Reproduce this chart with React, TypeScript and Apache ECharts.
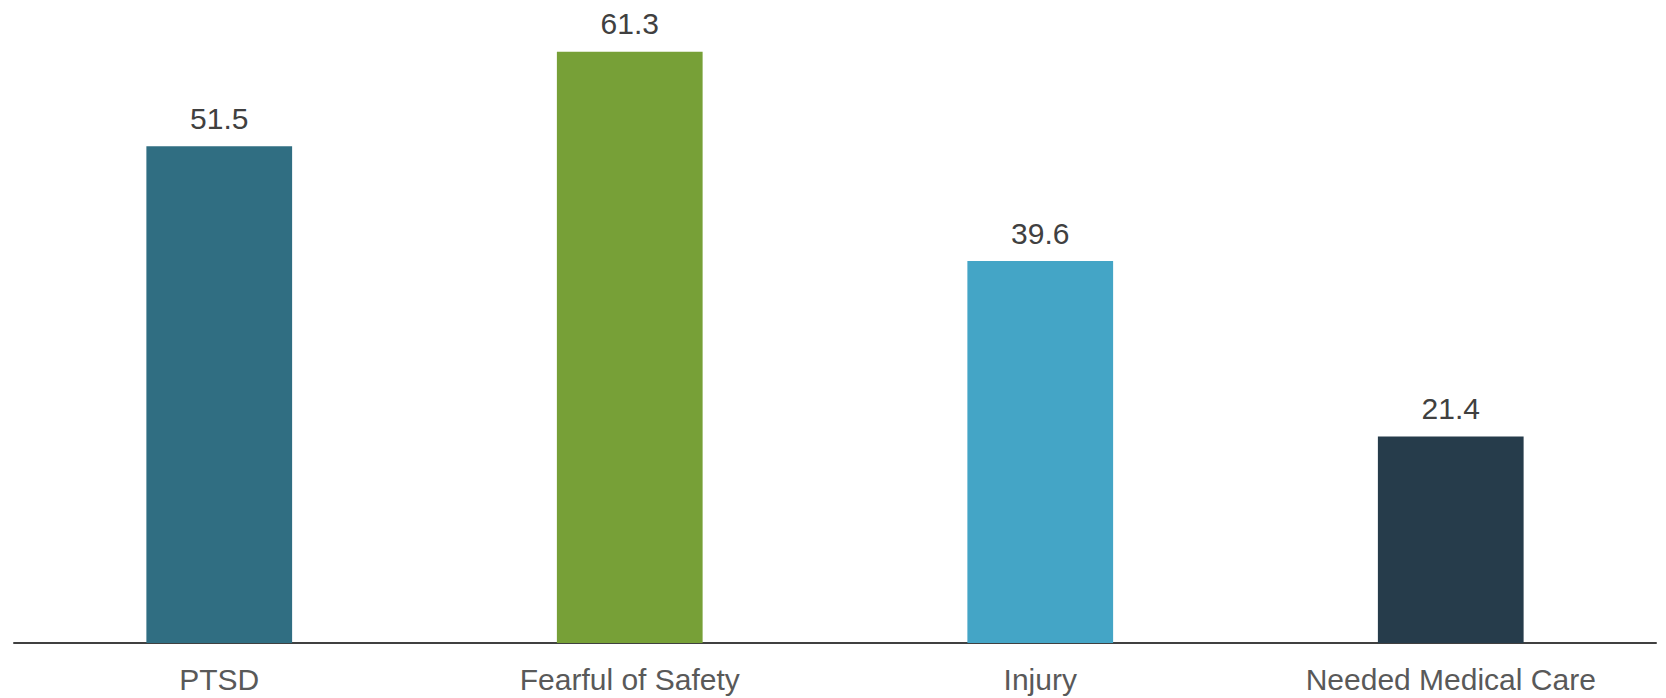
import React, { useEffect, useRef } from "react";
import * as echarts from "echarts";

const categories = ["PTSD", "Fearful of Safety", "Injury", "Needed Medical Care"];
const values = [51.5, 61.3, 39.6, 21.4];
const barColors = ["#306E82", "#77A037", "#44A5C6", "#263C4B"];

export default function App() {
  const ref = useRef<HTMLDivElement>(null);
  useEffect(() => {
    if (!ref.current) return;
    const chart = echarts.init(ref.current, undefined, { renderer: "svg" });
    chart.setOption({
      animation: false,
      backgroundColor: "#ffffff",
      grid: { left: 14, right: 10, top: 16, bottom: 55, containLabel: false },
      xAxis: {
        type: "category",
        data: categories,
        axisLine: { show: true, lineStyle: { color: "#404040", width: 2 } },
        axisTick: { show: false },
        axisLabel: {
          color: "#595959",
          fontSize: 30,
          fontFamily: "Liberation Sans, Arial, sans-serif",
          margin: 21,
        },
      },
      yAxis: {
        type: "value",
        min: 0,
        max: 65,
        show: false,
        splitLine: { show: false },
      },
      series: [
        {
          type: "bar",
          barWidth: "35.5%",
          data: values.map((v, i) => ({ value: v, itemStyle: { color: barColors[i] } })),
          label: {
            show: true,
            position: "top",
            distance: 13,
            color: "#404040",
            fontSize: 30,
            fontFamily: "Liberation Sans, Arial, sans-serif",
            formatter: (p: any) => p.value.toFixed(1),
          },
        },
      ],
    });
    return () => chart.dispose();
  }, []);
  return (
    <div
      ref={ref}
      style={{ position: "absolute", left: 0, top: 0, width: 1666, height: 698 }}
    />
  );
}
